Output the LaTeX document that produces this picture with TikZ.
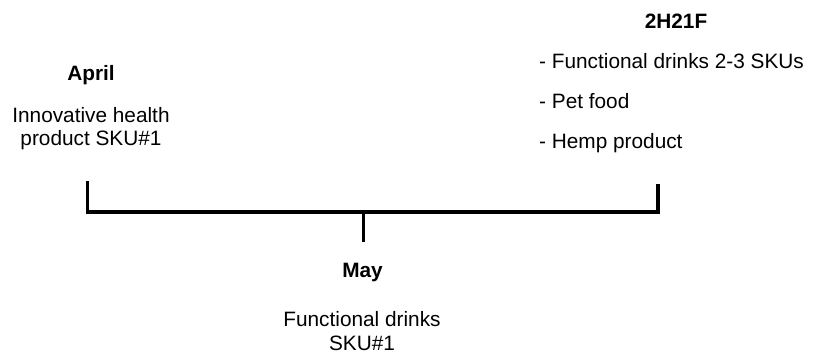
\documentclass[tikz,border=0pt]{standalone}
\usepackage{fontspec}
\setmainfont{Liberation Sans}
\begin{document}
\begin{tikzpicture}[x=1pt,y=-1pt,
  txt/.style={inner sep=0pt,anchor=base,font=\fontsize{20.8}{23.5}\selectfont},
  hd/.style={txt,font=\fontsize{20.8}{23.5}\selectfont\bfseries},
  ml/.style={txt,align=center},
  li/.style={txt,anchor=base west},
  bar/.style={line width=3.6pt,black}]
\useasboundingbox (0,0) rectangle (813,354);
% timeline
\coordinate (L) at (86,212);
\coordinate (R) at (659.5,212);
\coordinate (Ltop) at (87.5,181);
\coordinate (Lbot) at (87.5,212);
\coordinate (Mtop) at (363.5,212);
\coordinate (Mbot) at (363.5,242);
\coordinate (Rtop) at (657.8,184);
\coordinate (Rbot) at (657.8,212);
\draw[bar] (L) -- (R);
\draw[bar] (Ltop) -- (Lbot);
\draw[bar] (Mtop) -- (Mbot);
\draw[bar] (Rtop) -- (Rbot);
% April
\node[hd] (april) at (91,80) {April};
\node[txt] (a1) at (91,122) {Innovative health};
\node[txt] (a2) at (91,145.5) {product SKU\#1};
% May
\node[hd] (may) at (362.5,277) {May};
\node[txt] (m1) at (362,326.7) {Functional drinks};
\node[txt] (m2) at (362,350) {SKU\#1};
% 2H21F
\node[hd] (h) at (676,28.3) {2H21F};
\node[li] (h1) at (539,68.3) {- Functional drinks 2-3 SKUs};
\node[li] (h2) at (539,108.3) {- Pet food};
\node[li] (h3) at (539,148.3) {- Hemp product};
\end{tikzpicture}
\end{document}
